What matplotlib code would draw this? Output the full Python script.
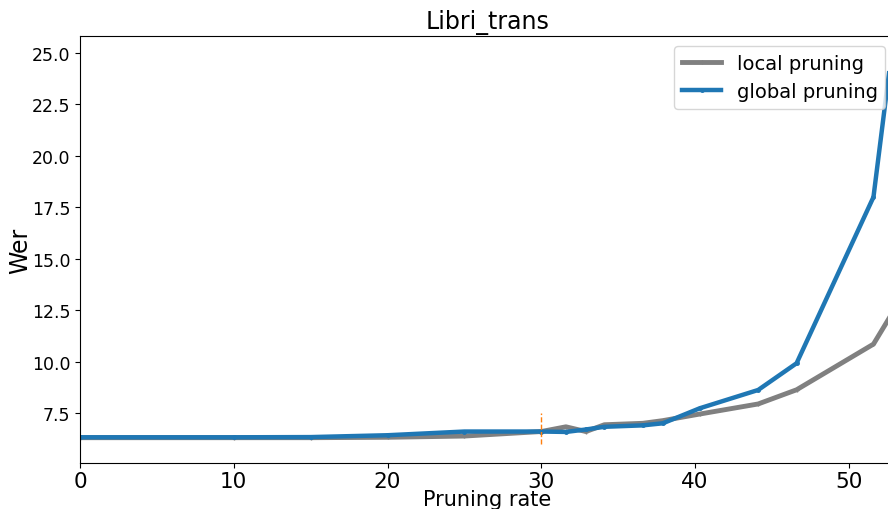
import matplotlib
matplotlib.use('Agg')
from matplotlib import pyplot as plt

# данные
local_x = [0, 10, 15, 20, 25, 30, 31.6, 32.9, 34.1, 36.6, 37.9, 40.3, 44.1, 46.6, 51.6, 53.5]
local_wer = [6.3, 6.3, 6.3, 6.32, 6.38, 6.6, 6.83, 6.6, 6.93, 7.0, 7.13, 7.45, 7.94, 8.63, 10.85, 13.2]

global_x = [0, 10, 15, 20, 25, 30, 31.6, 32.9, 34.1, 36.6, 37.9, 40.3, 44.1, 46.6, 51.6, 52.75]
global_wer = [6.32, 6.32, 6.33, 6.42, 6.6, 6.6, 6.58, 6.7, 6.83, 6.9, 7.0, 7.73, 8.62, 9.92, 18.0, 24.85]

prune_mark = 30
mark_lo, mark_hi = 6.0, 7.5

fig = plt.figure(figsize=(8.88, 5.10), dpi=100)
ax = fig.add_axes([80 / 888, 46 / 510, 815 / 888, 427 / 510])

ax.plot(local_x, local_wer, color='gray', lw=3.5, marker='+', markersize=3, label='local pruning')
ax.plot(global_x, global_wer, color='tab:blue', lw=3.2, marker='.', markersize=5, label='global pruning')
ax.vlines(prune_mark, mark_lo, mark_hi, colors='tab:orange', linestyles='--', lw=1)

ax.set_xlim(0, 53)
ax.set_ylim(5.07, 25.83)
ax.set_title('Libri_trans', fontsize=17)
ax.set_xlabel('Pruning rate', fontsize=15, labelpad=-1.5)
ax.set_ylabel('Wer', fontsize=17, labelpad=0)
ax.tick_params(axis='x', labelsize=15.5, pad=2.5)
ax.tick_params(axis='y', labelsize=12.5)
ax.legend(loc='upper right', fontsize=14)

plt.savefig('out.png', dpi=100)
